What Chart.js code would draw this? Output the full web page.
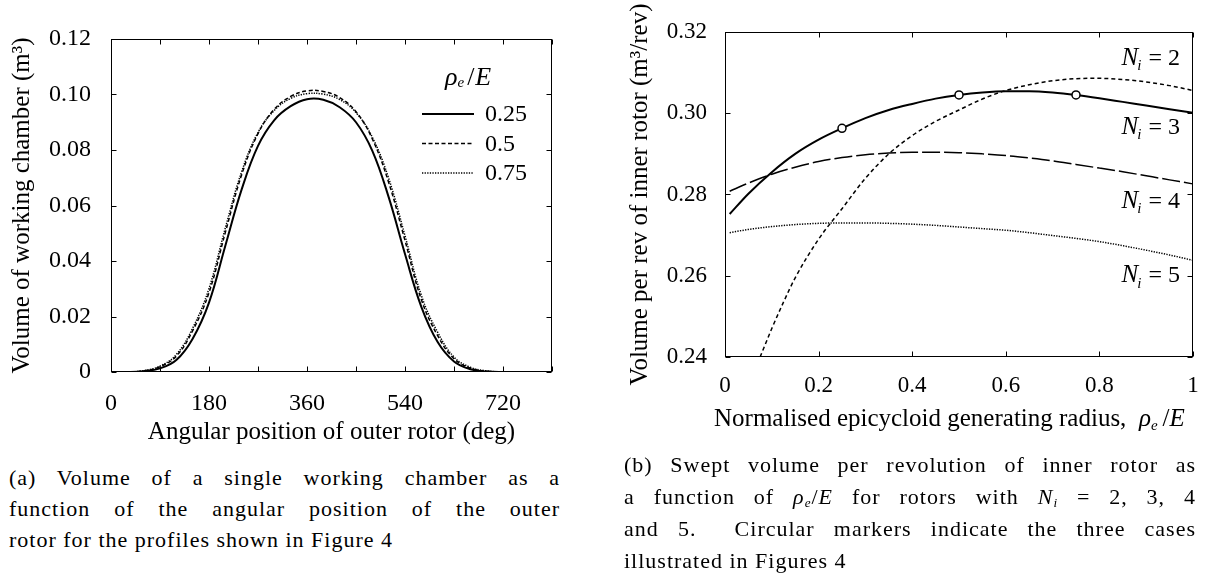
<!DOCTYPE html>
<html>
<head>
<meta charset="utf-8">
<script src="https://cdn.jsdelivr.net/npm/chart.js@4.4.1/dist/chart.umd.min.js"></script>
<style>
  html, body { margin: 0; padding: 0; background: #fff; }
  body { width: 1215px; height: 579px; position: relative; overflow: hidden;
         font-family: "Liberation Serif", serif; color: #000; }
  canvas { position: absolute; top: 0; }
  .cap { position: absolute; font-size: 22px; letter-spacing: 1px; }
  .cap div { text-align: justify; text-align-last: justify; height: 31px; line-height: 31px; }
  .cap div.last { text-align-last: left; }
  #capB div { height: 32px; line-height: 32px; }
  .xtitle { position: absolute; font-size: 25px; white-space: nowrap; }
  i sub { font-size: 60%; vertical-align: -0.25em; }
</style>
</head>
<body>
<canvas id="chart-chamber" width="600" height="450" style="left:0"></canvas>
<canvas id="chart-swept" width="615" height="450" style="left:600px"></canvas>

<div class="xtitle" id="xtB" style="left:714px; top:404px;">Normalised epicycloid generating radius,&nbsp; <i>ρ<sub>e</sub></i>&thinsp;/<i>E</i></div>

<div class="cap" id="capA" style="left:9px; top:462px; width:551px;">
  <div>(a) Volume of a single working chamber as a</div>
  <div>function of the angular position of the outer</div>
  <div class="last">rotor for the profiles shown in Figure 4</div>
</div>

<div class="cap" id="capB" style="left:624px; top:449px; width:572px;">
  <div>(b) Swept volume per revolution of inner rotor as</div>
  <div>a function of <i>ρ<sub>e</sub></i>/<i>E</i> for rotors with <i>N<sub>i</sub></i> = 2, 3, 4</div>
  <div>and 5.&nbsp; Circular markers indicate the three cases</div>
  <div class="last">illustrated in Figures 4</div>
</div>

<script>
// ---- (a) chamber volume vs outer rotor angle ----
const angleDeg = [0, 30, 60, 90, 120, 150, 180, 210, 240, 270, 300, 330, 360, 390,
                  420, 450, 480, 510, 540, 570, 600, 630, 660, 690, 720, 750, 780, 810];
const vol025 = [0, 0, 0.0003, 0.0013, 0.0043, 0.0120, 0.0250, 0.0455, 0.0658, 0.0815, 0.0908, 0.0958, 0.0983, 0.0981,
                0.0954, 0.0900, 0.0797, 0.0630, 0.0425, 0.0235, 0.0108, 0.0038, 0.0010, 0.0002, 0, 0, 0, 0];
const vol05  = [0, 0, 0.0004, 0.0019, 0.0057, 0.0149, 0.0286, 0.0503, 0.0711, 0.0859, 0.0947, 0.0993, 0.1013, 0.1011,
                0.0989, 0.0938, 0.0840, 0.0683, 0.0474, 0.0261, 0.0131, 0.0048, 0.0014, 0.0003, 0, 0, 0, 0];
const vol075 = [0, 0, 0.0005, 0.0021, 0.0063, 0.0158, 0.0301, 0.0519, 0.0722, 0.0863, 0.0943, 0.0986, 0.1003, 0.1001,
                0.0982, 0.0935, 0.0846, 0.0698, 0.0491, 0.0276, 0.0143, 0.0054, 0.0017, 0.0004, 0, 0, 0, 0];
const rhoLabels = ["0.25", "0.5", "0.75"];

// ---- (b) swept volume vs rho_e/E ----
const rhoX  = [0.01, 0.05, 0.10, 0.15, 0.20, 0.25, 0.30, 0.35, 0.40, 0.45, 0.50,
               0.55, 0.60, 0.65, 0.70, 0.75, 0.80, 0.85, 0.90, 0.95, 1.00];
const rhoX2 = [0.075, 0.10, 0.125, 0.15, 0.20, 0.25, 0.30, 0.35, 0.40, 0.45, 0.50,
               0.55, 0.60, 0.65, 0.70, 0.75, 0.80, 0.85, 0.90, 0.95, 1.00];
const sweptN2 = [0.2400, 0.2470, 0.2535, 0.2595, 0.2690, 0.2765, 0.2840, 0.2900, 0.2945, 0.2980, 0.3008,
                 0.3035, 0.3056, 0.3070, 0.3080, 0.3085, 0.3086, 0.3083, 0.3077, 0.3068, 0.3056];
const sweptN3 = [0.2752, 0.2802, 0.2855, 0.2900, 0.2935, 0.2963, 0.2988, 0.3008, 0.3023, 0.3036, 0.3045,
                 0.3051, 0.3054, 0.3054, 0.3051, 0.3045, 0.3037, 0.3028, 0.3019, 0.3010, 0.3001];
const sweptN4 = [0.2808, 0.2828, 0.2850, 0.2867, 0.2881, 0.2891, 0.2898, 0.2902, 0.2904, 0.2904, 0.2903,
                 0.2900, 0.2896, 0.2890, 0.2883, 0.2874, 0.2865, 0.2856, 0.2846, 0.2836, 0.2826];
const sweptN5 = [0.2706, 0.2714, 0.2721, 0.2726, 0.2729, 0.2730, 0.2730, 0.2729, 0.2727, 0.2724, 0.2720,
                 0.2716, 0.2712, 0.2706, 0.2699, 0.2692, 0.2684, 0.2674, 0.2663, 0.2651, 0.2638];
const markerRho = [0.25, 0.5, 0.75];   // the three cases of Figure 4
const seriesNames = ["2", "3", "4", "5"];

const pair = (xs, ys) => xs.map((x, i) => ({ x: x, y: ys[i] }));
const serif = "'Liberation Serif', serif";

// box round the plot, with ticks pointing inward on all four sides
const frameTicks = {
  id: "frameTicks",
  afterDatasetsDraw(chart) {
    const { ctx, chartArea: a, scales } = chart;
    const L = Math.round(a.left) + 0.5, R = Math.round(a.right) - 0.5;
    const T = Math.round(a.top) + 0.5, B = Math.round(a.bottom) - 0.5;
    ctx.save();
    ctx.strokeStyle = "#000";
    ctx.lineWidth = 1;
    ctx.strokeRect(L, T, R - L, B - T);
    ctx.beginPath();
    scales.x.ticks.forEach(t => {
      const p = Math.round(scales.x.getPixelForValue(t.value)) + 0.5;
      ctx.moveTo(p, B); ctx.lineTo(p, B - 5);
      ctx.moveTo(p, T); ctx.lineTo(p, T + 5);
    });
    scales.y.ticks.forEach(t => {
      const p = Math.round(scales.y.getPixelForValue(t.value)) + 0.5;
      ctx.moveTo(L, p); ctx.lineTo(L + 5, p);
      ctx.moveTo(R, p); ctx.lineTo(R - 5, p);
    });
    ctx.stroke();
    ctx.restore();
  }
};

// legend of panel (a), drawn inside the plot
const rhoLegend = {
  id: "rhoLegend",
  afterDraw(chart) {
    const { ctx, chartArea: a } = chart;
    ctx.save();
    ctx.fillStyle = "#000";
    ctx.textBaseline = "middle";
    let x = a.right - 107, y = a.top + 39;
    ctx.font = "italic 26px " + serif;
    ctx.fillText("ρ", x, y);
    x += ctx.measureText("ρ").width;
    ctx.font = "italic 15px " + serif;
    ctx.fillText("e", x, y + 5);
    x += ctx.measureText("e").width + 3;
    ctx.font = "26px " + serif;
    ctx.fillText("/", x, y);
    x += ctx.measureText("/").width + 1;
    ctx.font = "italic 26px " + serif;
    ctx.fillText("E", x, y);

    ctx.font = "24px " + serif;
    chart.data.datasets.forEach((ds, i) => {
      const yy = a.top + 75 + i * 29.5;
      ctx.strokeStyle = "#000";
      ctx.lineWidth = ds.borderWidth;
      ctx.setLineDash(ds.borderDash || []);
      ctx.beginPath();
      ctx.moveTo(a.right - 130, yy);
      ctx.lineTo(a.right - 78, yy);
      ctx.stroke();
      ctx.fillText(ds.label, a.right - 67, yy + 1);
    });
    ctx.restore();
  }
};

// curve names of panel (b)
const niLabels = {
  id: "niLabels",
  afterDraw(chart) {
    const { ctx, chartArea: a, scales } = chart;
    const at = [0.3135, 0.2965, 0.2783, 0.2600];
    ctx.save();
    ctx.fillStyle = "#000";
    ctx.textBaseline = "middle";
    seriesNames.forEach((n, i) => {
      const y = scales.y.getPixelForValue(at[i]);
      ctx.font = "24px " + serif;
      const tail = " = " + n;
      const wTail = ctx.measureText(tail).width;
      let x = a.right - 13 - wTail;
      ctx.fillText(tail, x, y);
      ctx.font = "italic 15px " + serif;
      const wi = ctx.measureText("i").width;
      x -= wi + 1;
      ctx.fillText("i", x, y + 8);
      ctx.font = "italic 25px " + serif;
      const wn = ctx.measureText("N").width;
      ctx.fillText("N", x - wn + 1, y);
    });
    ctx.restore();
  }
};

Chart.defaults.font.family = serif;
Chart.defaults.color = "#000";

new Chart(document.getElementById("chart-chamber").getContext("2d"), {
  type: "line",
  data: {
    datasets: [
      { label: rhoLabels[0], data: pair(angleDeg, vol025), borderColor: "#000", borderWidth: 2 },
      { label: rhoLabels[1], data: pair(angleDeg, vol05), borderColor: "#000", borderWidth: 1.5, borderDash: [4, 2.5] },
      { label: rhoLabels[2], data: pair(angleDeg, vol075), borderColor: "#000", borderWidth: 1.5, borderDash: [1.3, 1.3] }
    ]
  },
  options: {
    responsive: false,
    animation: false,
    layout: { padding: { left: 0, right: 48, top: 39, bottom: 0 } },
    elements: { point: { radius: 0 }, line: { tension: 0.4, fill: false } },
    plugins: { legend: { display: false }, tooltip: { enabled: false } },
    scales: {
      x: {
        type: "linear", min: 0, max: 810,
        grid: { display: false }, border: { display: false },
        ticks: {
          stepSize: 90, autoSkip: false, maxRotation: 0, padding: 9,
          font: { size: 24 },
          callback: v => (v % 180 === 0 && v <= 720) ? String(v) : ""
        },
        title: { display: true, text: "Angular position of outer rotor (deg)",
                 font: { size: 25 }, padding: { top: 0, bottom: 3 } },
        afterFit: s => { s.height = 78; }
      },
      y: {
        min: 0, max: 0.12,
        grid: { display: false }, border: { display: false },
        ticks: {
          stepSize: 0.02, padding: 12, font: { size: 24 },
          callback: v => (Math.abs(v) < 1e-9 ? "0" : v.toFixed(2))
        },
        title: { display: true, text: "Volume of working chamber (m³)",
                 font: { size: 25 }, padding: { top: 7, bottom: 0 } },
        afterFit: s => { s.width = 111; }
      }
    }
  },
  plugins: [frameTicks, rhoLegend]
});

new Chart(document.getElementById("chart-swept").getContext("2d"), {
  type: "line",
  data: {
    datasets: [
      { label: "N2", data: pair(rhoX2, sweptN2), borderColor: "#000", borderWidth: 1.5, borderDash: [4, 3] },
      { label: "N3", data: pair(rhoX, sweptN3), borderColor: "#000", borderWidth: 2,
        pointRadius: c => markerRho.includes(rhoX[c.dataIndex]) ? 4 : 0,
        pointBackgroundColor: "#fff", pointBorderColor: "#000", pointBorderWidth: 1.5 },
      { label: "N4", data: pair(rhoX, sweptN4), borderColor: "#000", borderWidth: 1.5, borderDash: [18, 4] },
      { label: "N5", data: pair(rhoX, sweptN5), borderColor: "#000", borderWidth: 1.5, borderDash: [1.3, 1.3] }
    ]
  },
  options: {
    responsive: false,
    animation: false,
    layout: { padding: { left: 0, right: 22, top: 32, bottom: 33 } },
    elements: { point: { radius: 0 }, line: { cubicInterpolationMode: "monotone", fill: false } },
    plugins: { legend: { display: false }, tooltip: { enabled: false } },
    scales: {
      x: {
        type: "linear", min: 0, max: 1,
        grid: { display: false }, border: { display: false },
        ticks: {
          stepSize: 0.2, autoSkip: false, maxRotation: 0, padding: 7,
          font: { size: 23 },
          callback: v => (Math.abs(v) < 1e-9 ? "0" : Math.abs(v - 1) < 1e-9 ? "1" : String(+v.toFixed(1)))
        },
        afterFit: s => { s.height = 60; }
      },
      y: {
        min: 0.24, max: 0.32,
        grid: { display: false }, border: { display: false },
        ticks: { stepSize: 0.02, padding: 10, font: { size: 23 }, callback: v => v.toFixed(2) },
        title: { display: true, text: "Volume per rev of inner rotor (m³/rev)",
                 font: { size: 25 }, padding: { top: 25, bottom: 0 } },
        afterFit: s => { s.width = 125; }
      }
    }
  },
  plugins: [frameTicks, niLabels]
});
</script>
</body>
</html>
